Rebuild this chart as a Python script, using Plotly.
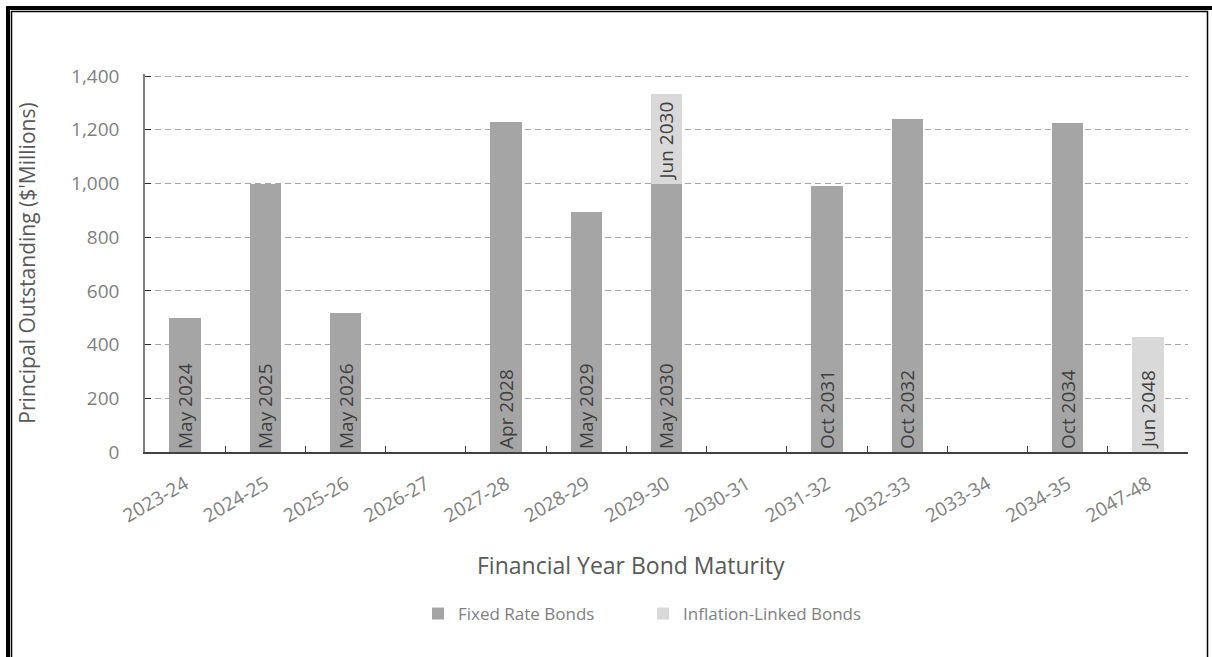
import plotly.graph_objects as go

categories = ["2023-24", "2024-25", "2025-26", "2026-27", "2027-28", "2028-29", "2029-30",
              "2030-31", "2031-32", "2032-33", "2033-34", "2034-35", "2047-48"]
fixed_values = [500, 1000, 518, None, 1230, 895, 1000, None, 990, 1240, None, 1225, None]
fixed_labels = ["May 2024", "May 2025", "May 2026", "", "Apr 2028", "May 2029", "May 2030",
                "", "Oct 2031", "Oct 2032", "", "Oct 2034", ""]
inflation_values = [None, None, None, None, None, None, 335, None, None, None, None, None, 430]
inflation_labels = ["", "", "", "", "", "", "Jun 2030", "", "", "", "", "", "Jun 2048"]
y_ticks = [0, 200, 400, 600, 800, 1000, 1200, 1400]
y_ticktext = ["0", "200", "400", "600", "800", "1,000", "1,200", "1,400"]

FONT = "Open Sans"
W, H = 1212, 657
L, R, T, B = 145, 24, 74, 205
PW, PH = W - L - R, H - T - B

def px(x):
    return (x - L) / PW

def py(y):
    return (H - B - y) / PH

fig = go.Figure()
fig.add_trace(go.Bar(
    name="Fixed Rate Bonds", x=categories, y=fixed_values, text=fixed_labels,
    marker=dict(color="#a5a5a5", line=dict(width=0)),
    textposition="inside", insidetextanchor="start", textangle=-90, constraintext="none",
    textfont=dict(family=FONT, size=19, color="#404040"),
    hoverinfo="x+y+name",
))
fig.add_trace(go.Bar(
    name="Inflation-Linked Bonds", x=categories, y=inflation_values, text=inflation_labels,
    marker=dict(color="#d9d9d9", line=dict(width=0)),
    textposition="inside", insidetextanchor="start", textangle=-90, constraintext="none",
    textfont=dict(family=FONT, size=19, color="#404040"),
    hoverinfo="x+y+name",
))

shapes = [
    # outer thick frame
    dict(type="line", xref="paper", yref="paper", x0=px(8), x1=px(8), y0=py(6), y1=py(720),
         line=dict(color="black", width=4)),
    dict(type="line", xref="paper", yref="paper", x0=px(6), x1=px(1240), y0=py(8), y1=py(8),
         line=dict(color="black", width=4)),
    # inner thin frame
    dict(type="line", xref="paper", yref="paper", x0=px(11.5), x1=px(11.5), y0=py(11), y1=py(720),
         line=dict(color="black", width=1.5)),
    dict(type="line", xref="paper", yref="paper", x0=px(11), x1=px(1208), y0=py(11.5), y1=py(11.5),
         line=dict(color="black", width=1.5)),
    dict(type="line", xref="paper", yref="paper", x0=px(1207.5), x1=px(1207.5), y0=py(11), y1=py(720),
         line=dict(color="black", width=1.5)),
]

annotations = [
    dict(text="Financial Year Bond Maturity", xref="paper", yref="paper",
         x=px(631), y=py(565), xanchor="center", yanchor="middle", showarrow=False,
         font=dict(family=FONT, size=23, color="#595959")),
]

fig.update_layout(
    width=W, height=H,
    margin=dict(l=L, r=R, t=T, b=B, autoexpand=False),
    paper_bgcolor="white", plot_bgcolor="white",
    barmode="stack", bargap=0.61,
    font=dict(family=FONT, color="#7f7f7f"),
    showlegend=True,
    legend=dict(orientation="h", x=px(418), xanchor="left",
                y=py(614), yanchor="middle",
                font=dict(family=FONT, size=17, color="#7f7f7f"),
                itemsizing="constant", traceorder="normal", itemwidth=30,
                entrywidth=180, entrywidthmode="pixels"),
    shapes=shapes,
    annotations=annotations,
    xaxis=dict(
        type="category", categoryorder="array", categoryarray=categories,
        tickangle=-30, tickfont=dict(family=FONT, size=19, color="#7f7f7f"),
        ticks="inside", ticklen=6, tickcolor="#404040", tickson="boundaries",
        ticklabelstandoff=12,
        showline=True, linecolor="#404040", linewidth=1.5,
        showgrid=False,
    ),
    yaxis=dict(
        range=[0, 1408], tickvals=y_ticks, ticktext=y_ticktext,
        tickfont=dict(family=FONT, size=19, color="#7f7f7f"),
        ticks="inside", ticklen=6, tickcolor="#262626",
        ticklabelstandoff=20,
        showline=True, linecolor="#7f7f7f", linewidth=1.5,
        showgrid=True, gridcolor="#a6a6a6", gridwidth=1, griddash="6px,4px",
        zeroline=False,
        title=dict(text="Principal Outstanding ($'Millions)", standoff=30,
                   font=dict(family=FONT, size=21, color="#595959")),
    ),
)

fig.write_html("out.html")
